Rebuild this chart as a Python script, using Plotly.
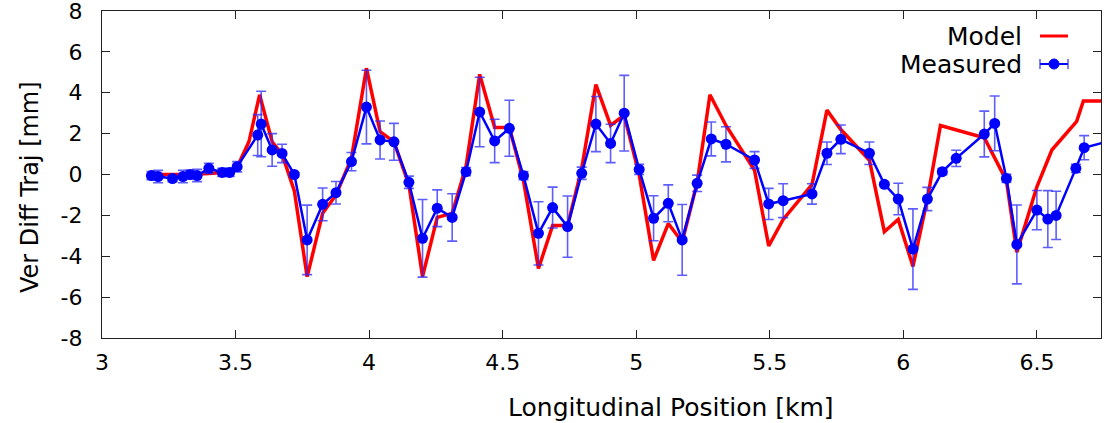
import plotly.graph_objects as go

# Measured data: position [km], vertical diff [mm], error [mm]
meas_x = [3.185, 3.21, 3.264, 3.303, 3.33, 3.356, 3.40, 3.45, 3.478, 3.506,
          3.583, 3.596, 3.637, 3.674, 3.72, 3.768, 3.826, 3.876, 3.934, 3.99,
          4.041, 4.093, 4.149, 4.20, 4.255, 4.311, 4.363, 4.414, 4.47, 4.525,
          4.578, 4.634, 4.687, 4.743, 4.796, 4.849, 4.904, 4.955, 5.011, 5.065,
          5.12, 5.172, 5.228, 5.281, 5.336, 5.443, 5.496, 5.55, 5.658, 5.714,
          5.766, 5.873, 5.929, 5.981, 6.036, 6.09, 6.146, 6.198, 6.303, 6.342,
          6.386, 6.425, 6.5, 6.541, 6.572, 6.646, 6.677, 6.76]
meas_y = [-0.05, -0.1, -0.2, -0.1, 0.0, -0.05, 0.3, 0.1, 0.1, 0.38,
          1.93, 2.47, 1.2, 1.03, 0.0, -3.2, -1.46, -0.89, 0.63, 3.3,
          1.69, 1.6, -0.38, -3.12, -1.65, -2.1, 0.14, 3.06, 1.64, 2.26,
          -0.06, -2.88, -1.62, -2.55, 0.06, 2.47, 1.52, 3.0, 0.25, -2.14,
          -1.41, -3.2, -0.43, 1.74, 1.48, 0.71, -1.44, -1.28, -0.95, 1.04,
          1.72, 1.04, -0.48, -1.2, -3.65, -1.2, 0.14, 0.79, 1.98, 2.5,
          -0.19, -3.42, -1.74, -2.18, -2.0, 0.3, 1.31, 1.6]
meas_err = [0.2, 0.3, 0.15, 0.3, 0.2, 0.3, 0.25, 0.2, 0.2, 0.25,
            1.0, 1.6, 0.8, 0.45, 0.1, 1.7, 0.8, 0.55, 0.45, 1.8,
            0.93, 0.9, 0.3, 1.9, 0.9, 1.16, 0.2, 1.7, 1.06, 1.37,
            0.2, 1.55, 1.0, 1.5, 0.3, 1.35, 0.94, 1.85, 0.25, 1.1,
            0.9, 1.73, 0.4, 0.83, 0.86, 0.41, 0.76, 0.83, 0.5, 0.55,
            0.7, 0.55, 0.1, 0.77, 1.97, 0.57, 0.15, 0.4, 1.12, 1.34,
            0.2, 1.93, 0.96, 1.39, 1.18, 0.2, 0.59, 0.3]

# Model curve
model_x = [3.19, 3.26, 3.33, 3.40, 3.45, 3.506, 3.55, 3.59, 3.637, 3.674,
           3.72, 3.768, 3.826, 3.876, 3.934, 3.99, 4.041, 4.093, 4.149, 4.20,
           4.255, 4.311, 4.363, 4.414, 4.47, 4.525, 4.578, 4.634, 4.687, 4.743,
           4.796, 4.849, 4.904, 4.955, 5.011, 5.065, 5.12, 5.172, 5.228, 5.276,
           5.336, 5.443, 5.496, 5.55, 5.658, 5.714, 5.766, 5.873, 5.929, 5.981,
           6.036, 6.09, 6.139, 6.303, 6.338, 6.386, 6.425, 6.5, 6.556, 6.649,
           6.674, 6.74]
model_y = [0.0, 0.0, 0.0, 0.05, 0.1, 0.35, 1.6, 3.9, 1.6, 1.0,
           -0.8, -5.0, -1.9, -1.0, 0.8, 5.2, 2.1, 1.6, -0.5, -5.0,
           -2.1, -1.9, 0.4, 4.9, 2.3, 2.3, -0.3, -4.6, -2.5, -2.5,
           0.3, 4.4, 2.4, 2.9, 0.0, -4.2, -2.4, -3.3, -0.4, 3.9,
           2.4, 0.2, -3.5, -2.2, -0.5, 3.15, 2.2, 0.7, -2.8, -2.2,
           -4.5, -1.2, 2.4, 1.8, 0.9, -0.3, -3.8, -0.6, 1.2, 2.6,
           3.6, 3.6]

x_ticks = [3, 3.5, 4, 4.5, 5, 5.5, 6, 6.5]
x_ticktext = ["3", "3.5", "4", "4.5", "5", "5.5", "6", "6.5"]
y_ticks = [-8, -6, -4, -2, 0, 2, 4, 6, 8]
y_ticktext = ["-8", "-6", "-4", "-2", "0", "2", "4", "6", "8"]

RED = "rgb(255,0,0)"
BLUE = "rgb(0,0,255)"
ERRC = "rgba(40,40,255,0.75)"

fig = go.Figure()
fig.add_trace(go.Scatter(x=model_x, y=model_y, mode="lines", name="Model",
                         line=dict(color=RED, width=3.5), showlegend=False))
fig.add_trace(go.Scatter(x=meas_x, y=meas_y, mode="lines+markers", name="Measured",
                         line=dict(color=BLUE, width=2.5),
                         marker=dict(color=BLUE, size=11),
                         error_y=dict(type="data", array=meas_err, visible=True,
                                      color=ERRC, thickness=1.6, width=5),
                         showlegend=False, cliponaxis=True))

font = "DejaVu Sans"
axis_common = dict(showline=True, linecolor="#222", linewidth=1.2, mirror="ticks",
                   ticks="inside", ticklen=8, tickcolor="#222", tickwidth=1.2,
                   showgrid=False, zeroline=False, automargin=False,
                   ticklabeloverflow="allow",
                   tickfont=dict(family=font, size=22, color="black"))
fig.update_xaxes(range=[3, 6.74], tickmode="array", tickvals=x_ticks, ticktext=x_ticktext,
                 ticklabelstandoff=4, **axis_common)
fig.update_yaxes(range=[-8, 8], tickmode="array", tickvals=y_ticks, ticktext=y_ticktext,
                 ticklabelstandoff=14, **axis_common)

L, R, T, B = 102, 1101, 11, 338
def px(xp):
    return (xp - L) / (R - L)
def py(yp):
    return (B - yp) / (B - T)

# Axis titles (gnuplot places them slightly off-centre)
fig.add_annotation(x=px(671), y=py(407), xref="paper", yref="paper",
                   text="Longitudinal Position [km]", showarrow=False,
                   xanchor="center", yanchor="middle",
                   font=dict(family=font, size=25, color="black"))
fig.add_annotation(x=px(30), y=py(187), xref="paper", yref="paper",
                   text="Ver Diff Traj [mm]", showarrow=False, textangle=-90,
                   xanchor="center", yanchor="middle",
                   font=dict(family=font, size=24, color="black"))

# Custom gnuplot-style legend (text, then sample)
fig.add_annotation(x=px(1024), y=py(36), xref="paper", yref="paper", text="Model",
                   showarrow=False, xanchor="right", yanchor="middle",
                   font=dict(family=font, size=25, color="black"))
fig.add_annotation(x=px(1024), y=py(64), xref="paper", yref="paper", text="Measured",
                   showarrow=False, xanchor="right", yanchor="middle",
                   font=dict(family=font, size=25, color="black"))
fig.add_shape(type="line", xref="paper", yref="paper", x0=px(1040), x1=px(1068),
              y0=py(36), y1=py(36), line=dict(color=RED, width=3))
fig.add_shape(type="line", xref="paper", yref="paper", x0=px(1040), x1=px(1068),
              y0=py(64), y1=py(64), line=dict(color=BLUE, width=2))
for cx in (1040, 1068):
    fig.add_shape(type="line", xref="paper", yref="paper", x0=px(cx), x1=px(cx),
                  y0=py(59), y1=py(69), line=dict(color=ERRC, width=1.6))
fig.add_shape(type="circle", xref="paper", yref="paper", x0=px(1049), x1=px(1059),
              y0=py(69), y1=py(59), fillcolor=BLUE, line=dict(color=BLUE, width=1))

fig.update_layout(width=1107, height=423, paper_bgcolor="white", plot_bgcolor="white",
                  margin=dict(l=L, r=1107 - R, t=T, b=423 - B, autoexpand=False),
                  font=dict(family=font, color="black"))

fig.write_html("out.html", config={"displayModeBar": False},
               post_script="document.body.style.margin='0';document.body.style.overflow='hidden';")
